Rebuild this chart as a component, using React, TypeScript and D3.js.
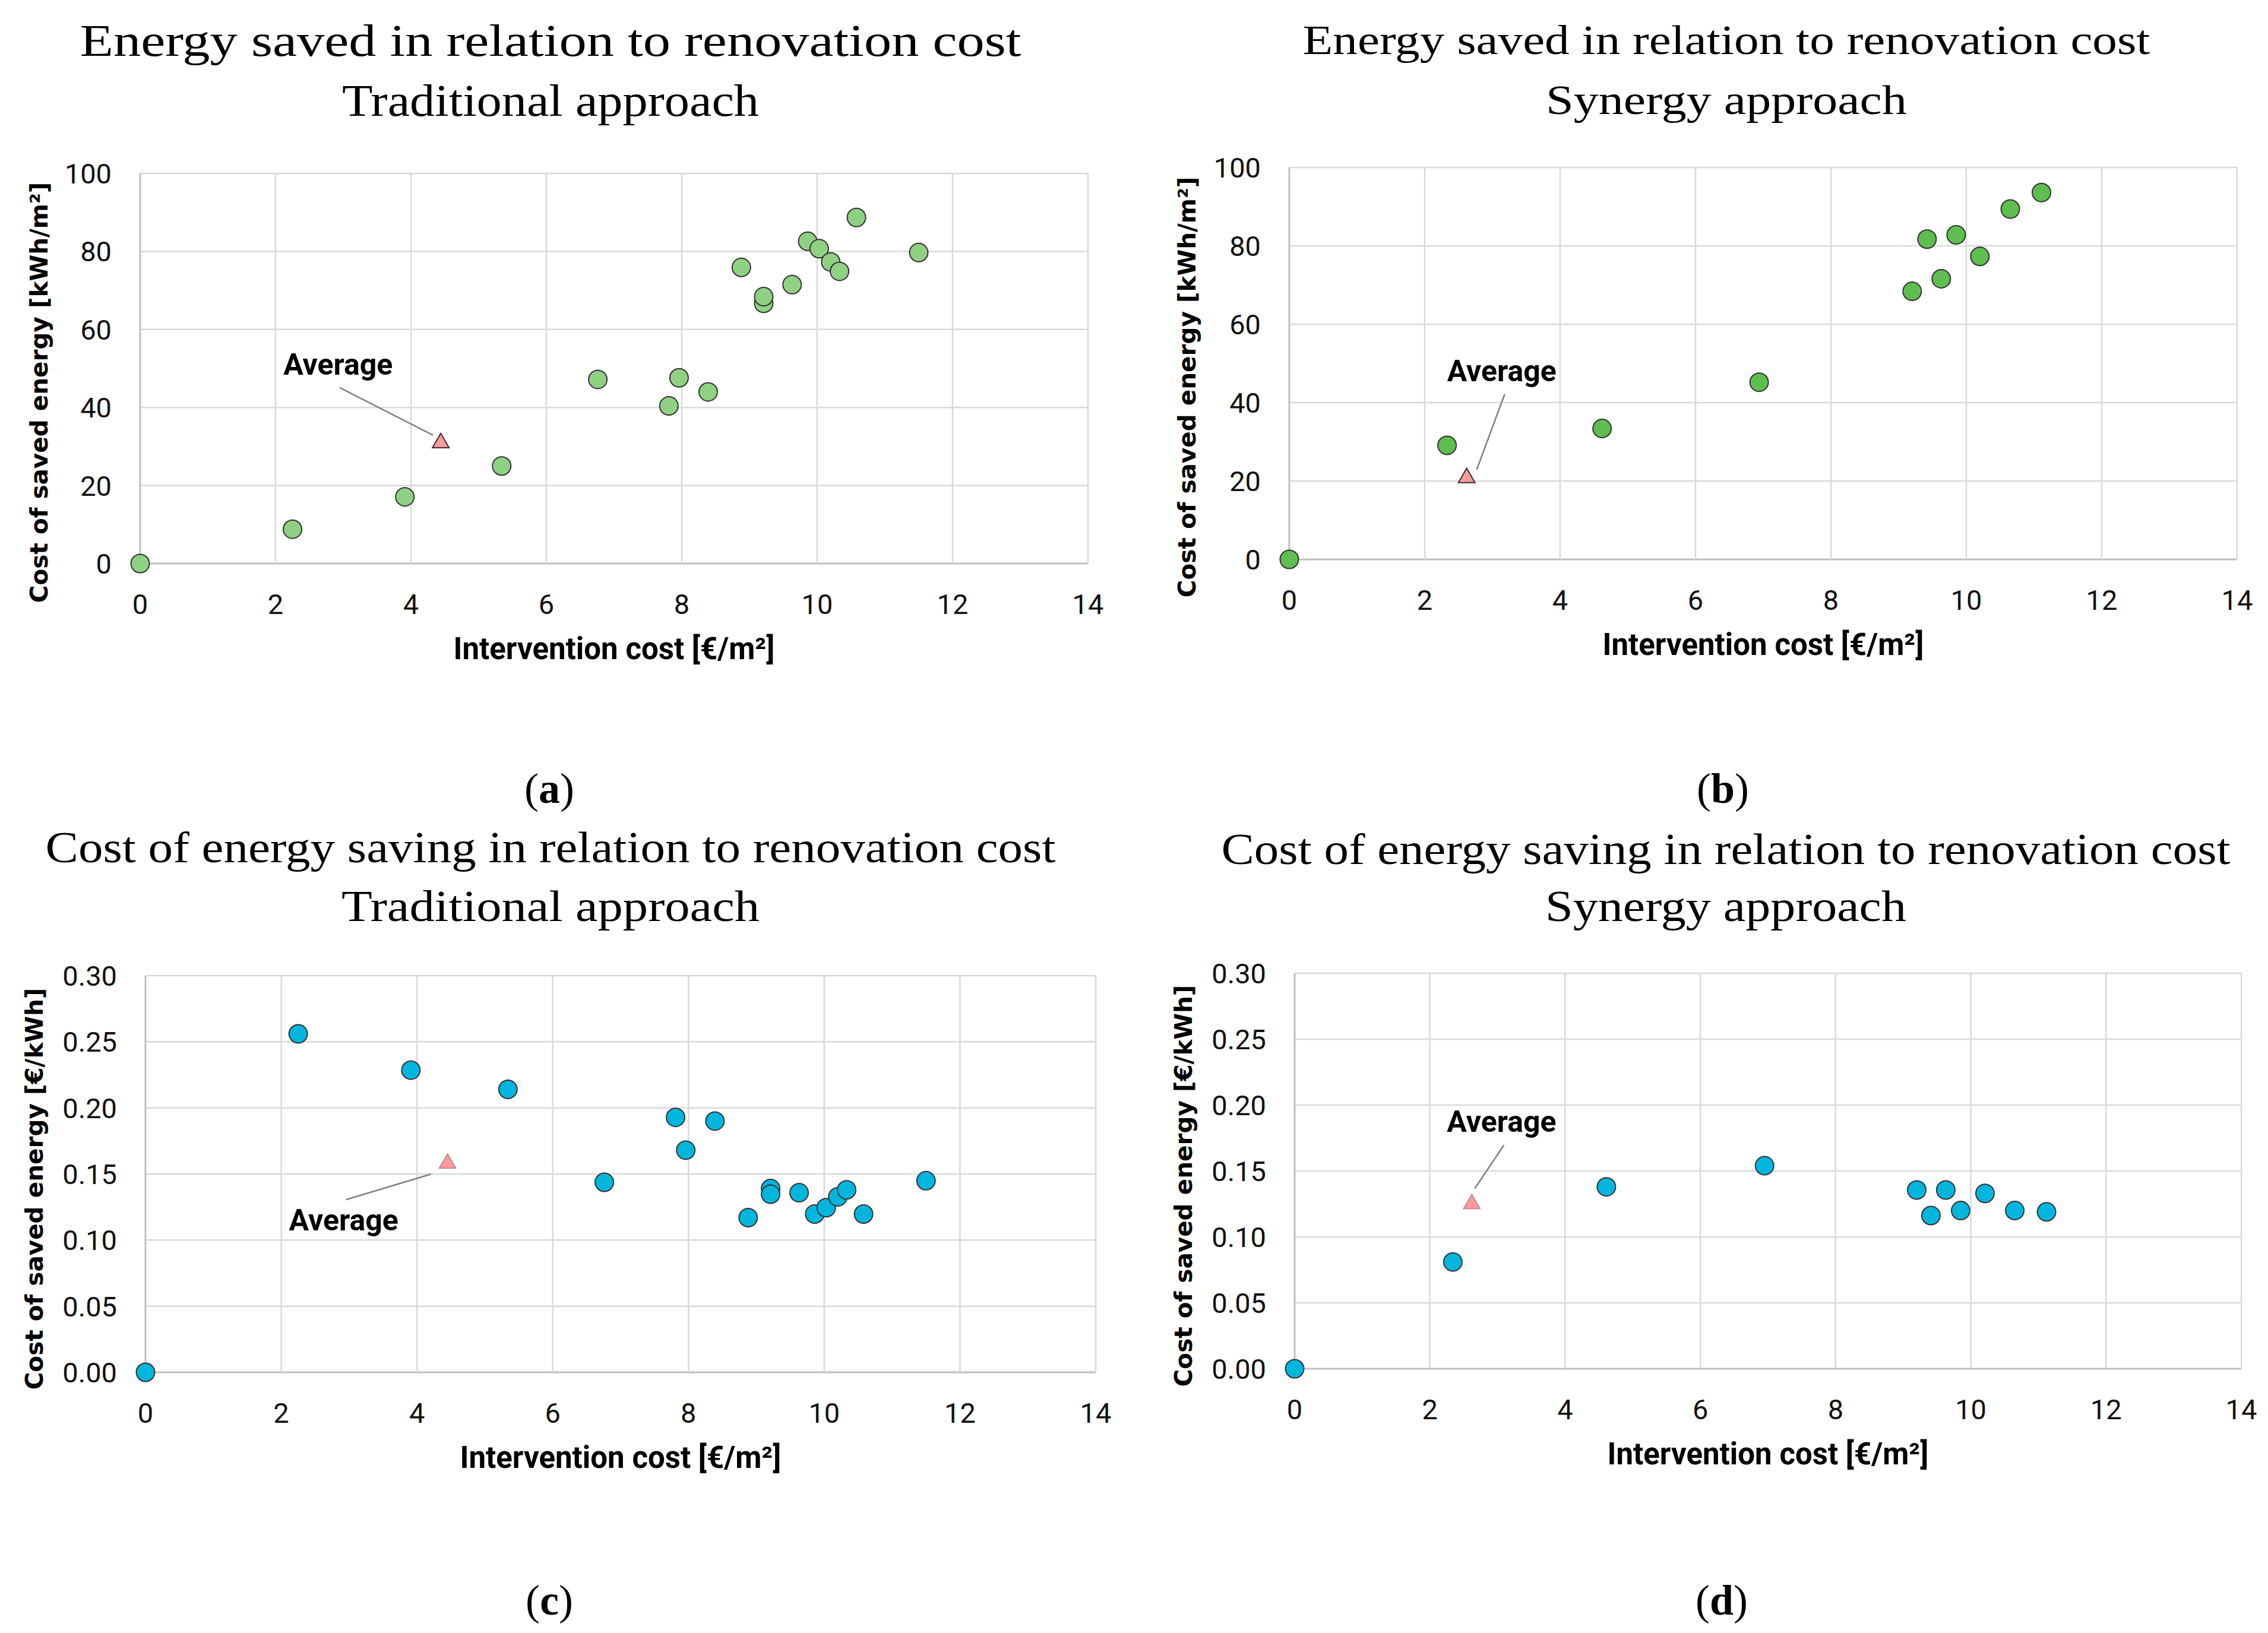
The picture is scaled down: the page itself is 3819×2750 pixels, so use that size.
import React from "react";
import * as d3 from "d3";

// intervention cost [€/m²] and results
const interventionTrad = [0, 2.25, 3.91, 5.34, 6.76, 7.81, 7.96, 8.39, 8.88, 9.21, 9.21, 9.63, 9.86, 10.03, 10.2, 10.33, 10.58, 11.5];
const energyTrad = [0, 8.8, 17.1, 25.0, 47.2, 40.4, 47.6, 44.0, 75.9, 66.7, 68.4, 71.5, 82.6, 80.7, 77.3, 74.9, 88.7, 79.7];
const costTrad = [0, 0.256, 0.2285, 0.214, 0.1437, 0.1928, 0.168, 0.19, 0.117, 0.139, 0.1347, 0.1358, 0.1197, 0.1245, 0.1327, 0.138, 0.1197, 0.1449];

const interventionSynA = [0, 2.33, 4.62, 6.94, 9.2, 9.42, 9.63, 9.85, 10.2, 10.65, 11.11];
const energySyn = [0, 29.1, 33.4, 45.2, 68.4, 81.7, 71.6, 82.8, 77.3, 89.4, 93.6];
const interventionSynB = [0, 2.34, 4.61, 6.95, 9.2, 9.41, 9.63, 9.85, 10.21, 10.65, 11.12];
const costSyn = [0, 0.081, 0.138, 0.154, 0.1356, 0.1162, 0.1356, 0.12, 0.133, 0.12, 0.119];

// averages: [intervention cost, value]
const avgEnergyTrad = [4.44, 30.9];
const avgEnergySyn = [2.62, 20.8];
const avgCostTrad = [4.45, 0.158];
const avgCostSyn = [2.62, 0.125];

const xTicks = [0, 2, 4, 6, 8, 10, 12, 14];
const energyTicks = [0, 20, 40, 60, 80, 100];
const costTicks = [0, 0.05, 0.1, 0.15, 0.2, 0.25, 0.3];

const titleEnergy = "Energy saved in relation to renovation cost";
const titleCost = "Cost of energy saving in relation to renovation cost";
const subTrad = "Traditional approach";
const subSyn = "Synergy approach";
const xTitle = "Intervention cost [€/m²]";
const yTitleEnergy = "Cost of saved energy [kWh/m²]";
const yTitleCost = "Cost of saved energy [€/kWh]";

const serif = "'Palatino Linotype', 'Book Antiqua', Palatino, 'Liberation Serif', serif";
const sans = "Roboto, 'Liberation Sans', sans-serif";

type Box = { left: number; right: number; top: number; bottom: number };
type Note = { tx: number; ty: number; x1: number; y1: number; x2: number; y2: number };

type PanelProps = {
  box: Box;
  titles: string[];
  titleSize: number;
  titleCx: number;
  titleBase: number[];
  titleWidth: number[];
  label: string;
  labelCx: number;
  labelBase: number;
  xs: number[];
  ys: number[];
  yTicks: number[];
  yFormat: (v: number) => string;
  yTitle: string;
  yTitleX: number;
  yTitleCy: number;
  fill: string;
  avg: number[];
  note: Note;
  triStroke: string;
  triStrokeWidth: number;
};

function Panel(p: PanelProps) {
  const { box } = p;
  const x = d3.scaleLinear().domain([0, 14]).range([box.left, box.right]);
  const yMax = p.yTicks[p.yTicks.length - 1];
  const y = d3.scaleLinear().domain([0, yMax]).range([box.bottom, box.top]);
  const tri = d3.symbol(d3.symbolTriangle, 340)();
  const ax = x(p.avg[0]);
  const ay = y(p.avg[1]);

  return (
    <g>
      {p.titles.map((t, i) => (
        <text key={t} x={p.titleCx} y={p.titleBase[i]} textAnchor="middle" fontFamily={serif}
          fontSize={p.titleSize} textLength={p.titleWidth[i]} lengthAdjust="spacingAndGlyphs">{t}</text>
      ))}

      {/* grid */}
      {p.yTicks.map((t) => (
        <line key={"h" + t} x1={box.left} x2={box.right} y1={y(t)} y2={y(t)}
          stroke={t === 0 ? "#bfbfbf" : "#d9d9d9"} strokeWidth={t === 0 ? 3 : 2.5} />
      ))}
      {xTicks.map((t) => (
        <line key={"v" + t} x1={x(t)} x2={x(t)} y1={box.top} y2={box.bottom}
          stroke={t === 0 ? "#bfbfbf" : "#d9d9d9"} strokeWidth={t === 0 ? 3 : 2.5} />
      ))}

      {/* tick labels */}
      {xTicks.map((t) => (
        <text key={"xl" + t} x={x(t)} y={box.bottom + 85} textAnchor="middle" fontFamily={sans}
          fontSize={47} fill="#111">{t}</text>
      ))}
      {p.yTicks.map((t) => (
        <text key={"yl" + t} x={box.left - 48} y={y(t)} dy="0.36em" textAnchor="end" fontFamily={sans}
          fontSize={47} fill="#111">{p.yFormat(t)}</text>
      ))}

      <text x={(box.left + box.right) / 2} y={box.bottom + 161} textAnchor="middle" fontFamily={sans}
        fontWeight="bold" fontSize={51}>{xTitle}</text>
      <text transform={`translate(${p.yTitleX},${p.yTitleCy}) rotate(-90)`} textAnchor="middle"
        dy="0.36em" fontFamily="'DejaVu Sans', sans-serif" fontWeight="bold" fontSize={40.5}>{p.yTitle}</text>

      {/* points */}
      {p.xs.map((v, i) => (
        <circle key={"c" + i} cx={x(v)} cy={y(p.ys[i])} r={15.5} fill={p.fill} stroke="#333" strokeWidth={2} />
      ))}

      {/* average marker + callout */}
      <line x1={ax + p.note.x1} y1={ay + p.note.y1} x2={ax + p.note.x2} y2={ay + p.note.y2}
        stroke="#808080" strokeWidth={2.5} />
      <path d={tri ?? ""} transform={`translate(${ax},${ay})`} fill="#ff9a9a" stroke={p.triStroke}
        strokeWidth={p.triStrokeWidth} />
      <text x={ax + p.note.tx} y={ay + p.note.ty} fontFamily={sans} fontWeight="bold" fontSize={50}>Average</text>

      <text x={p.labelCx} y={p.labelBase} textAnchor="middle" fontFamily={serif} fontSize={72}>
        (<tspan fontWeight="bold">{p.label}</tspan>)
      </text>
    </g>
  );
}

const fmtInt = (v: number) => d3.format("d")(v);
const fmt2 = (v: number) => d3.format(".2f")(v);

export default function App() {
  return (
    <div style={{ position: "absolute", left: 0, top: 0 }}>
      <svg width={3819} height={2750} style={{ display: "block", background: "#fff" }}>
        <rect width={3819} height={2750} fill="#fff" />
        <Panel
          box={{ left: 236, right: 1832, top: 292, bottom: 949 }}
          titles={[titleEnergy, subTrad]} titleSize={76} titleCx={927} titleBase={[94, 195]} titleWidth={[1585, 702]}
          label="a" labelCx={925} labelBase={1352}
          xs={interventionTrad} ys={energyTrad} yTicks={energyTicks} yFormat={fmtInt}
          yTitle={yTitleEnergy} yTitleX={65} yTitleCy={661} fill="#8fd182" avg={avgEnergyTrad}
          note={{ tx: -265, ty: -115, x1: -170, y1: -93, x2: -13, y2: -13 }}
          triStroke="#333" triStrokeWidth={2}
        />
        <Panel
          box={{ left: 2171, right: 3767, top: 282, bottom: 942 }}
          titles={[titleEnergy, subSyn]} titleSize={69} titleCx={2907} titleBase={[91, 192]} titleWidth={[1427, 608]}
          label="b" labelCx={2901} labelBase={1352}
          xs={interventionSynA} ys={energySyn} yTicks={energyTicks} yFormat={fmtInt}
          yTitle={yTitleEnergy} yTitleX={1998} yTitleCy={652} fill="#5fbe50" avg={avgEnergySyn}
          note={{ tx: -33, ty: -163, x1: 64, y1: -141, x2: 17, y2: -14 }}
          triStroke="#333" triStrokeWidth={2}
        />
        <Panel
          box={{ left: 245, right: 1845, top: 1643, bottom: 2311 }}
          titles={[titleCost, subTrad]} titleSize={73} titleCx={927} titleBase={[1452, 1551]} titleWidth={[1701, 704]}
          label="c" labelCx={925} labelBase={2719}
          xs={interventionTrad} ys={costTrad} yTicks={costTicks} yFormat={fmt2}
          yTitle={yTitleCost} yTitleX={57} yTitleCy={2002} fill="#00b6dd" avg={avgCostTrad}
          note={{ tx: -267, ty: 113, x1: -171, y1: 61, x2: -28, y2: 18 }}
          triStroke="#b88080" triStrokeWidth={1.5}
        />
        <Panel
          box={{ left: 2180, right: 3774, top: 1639, bottom: 2305 }}
          titles={[titleCost, subSyn]} titleSize={73} titleCx={2906} titleBase={[1455, 1551]} titleWidth={[1699, 608]}
          label="d" labelCx={2899} labelBase={2719}
          xs={interventionSynB} ys={costSyn} yTicks={costTicks} yFormat={fmt2}
          yTitle={yTitleCost} yTitleX={1992} yTitleCy={1997} fill="#00b6dd" avg={avgCostSyn}
          note={{ tx: -42, ty: -122, x1: 54, y1: -99, x2: 5, y2: -26 }}
          triStroke="#b88080" triStrokeWidth={1.5}
        />
      </svg>
    </div>
  );
}
